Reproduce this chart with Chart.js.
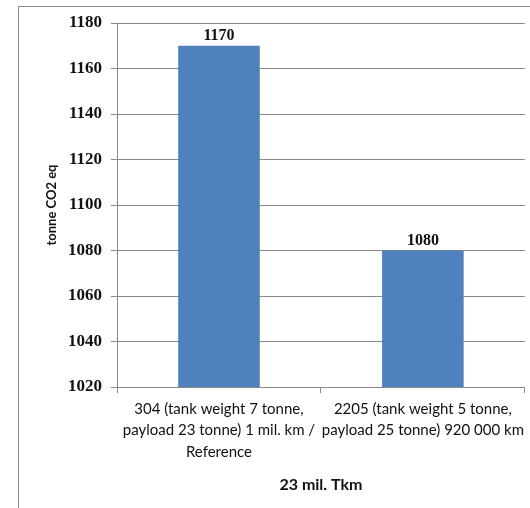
<!DOCTYPE html>
<html>
<head>
<meta charset="utf-8">
<script src="https://cdn.jsdelivr.net/npm/chart.js@4.4.1/dist/chart.umd.min.js"></script>
<style>
  html, body { margin: 0; padding: 0; background: #fff; }
  #wrap { width: 530px; height: 508px; position: relative; }
</style>
</head>
<body>
<div id="wrap"><canvas id="c" width="530" height="508"></canvas></div>
<script>
// Scenario categories (each label split into its display lines)
const categories = [
  ["304 (tank weight 7 tonne,", "payload 23 tonne) 1 mil. km /", "Reference"],
  ["2205 (tank weight 5 tonne,", "payload 25 tonne) 920 000 km"]
];
// Emissions per scenario, tonne CO2 eq
const emissions = [1170, 1080];
// Value axis range and step
const yMin = 1020;
const yMax = 1180;
const yStep = 20;

const axisGrey = '#8a8a8a';
const serifFont = "'Liberation Serif', 'DejaVu Serif', serif";
const sansFont = "Lato, 'Open Sans', 'Liberation Sans', sans-serif";
const padLeft = 44;

// Frame around the chart object
const framePlugin = {
  id: 'frame',
  beforeDraw(chart) {
    const ctx = chart.ctx;
    ctx.save();
    ctx.fillStyle = '#fff';
    ctx.fillRect(0, 0, chart.width, chart.height);
    ctx.strokeStyle = '#8c8c8c';
    ctx.lineWidth = 1;
    ctx.beginPath();
    ctx.moveTo(18.5, chart.height);
    ctx.lineTo(18.5, 6.5);
    ctx.lineTo(chart.width, 6.5);
    ctx.stroke();
    ctx.restore();
  }
};

// Value printed above each bar
const valueLabels = {
  id: 'valueLabels',
  afterDatasetsDraw(chart) {
    const ctx = chart.ctx;
    const meta = chart.getDatasetMeta(0);
    ctx.save();
    ctx.font = "bold 16px " + serifFont;
    ctx.fillStyle = '#111';
    ctx.textAlign = 'center';
    ctx.textBaseline = 'bottom';
    meta.data.forEach((bar, i) => {
      ctx.fillText(String(chart.data.datasets[0].data[i]), bar.x, bar.y - 2);
    });
    ctx.restore();
  }
};

new Chart(document.getElementById('c'), {
  type: 'bar',
  data: {
    labels: categories,
    datasets: [{
      data: emissions,
      backgroundColor: '#4F81BD',
      borderWidth: 0,
      barPercentage: 0.8,
      categoryPercentage: 0.5
    }]
  },
  options: {
    responsive: false,
    animation: false,
    devicePixelRatio: 1,
    layout: { padding: { left: padLeft, top: 23, right: 4, bottom: 14 } },
    plugins: {
      legend: { display: false },
      tooltip: { enabled: false }
    },
    scales: {
      x: {
        grid: {
          drawOnChartArea: false,
          drawTicks: true,
          tickLength: 6,
          color: axisGrey,
          offset: true
        },
        border: { color: axisGrey },
        ticks: {
          color: '#111',
          padding: 5,
          maxRotation: 0,
          autoSkip: false,
          font: { family: sansFont, size: 15, lineHeight: 1.45 }
        },
        title: {
          display: true,
          text: '23 mil. Tkm',
          color: '#111',
          font: { family: sansFont, size: 16, weight: 'bold' },
          padding: { top: 14, bottom: 0 }
        },
        afterFit(scale) { scale.height = 508 - 385 - 16; }
      },
      y: {
        min: yMin,
        max: yMax,
        grid: { color: axisGrey, tickLength: 6 },
        border: { color: axisGrey },
        ticks: {
          stepSize: yStep,
          color: '#111',
          padding: 9,
          font: { family: serifFont, size: 17, weight: 'bold' },
          callback: (v) => String(v)
        },
        title: {
          display: true,
          text: 'tonne CO2 eq',
          color: '#111',
          font: { family: sansFont, size: 13, weight: 'bold' },
          padding: { top: 0, bottom: 0 }
        },
        afterFit(scale) { scale.width = 117 - padLeft; }
      }
    }
  },
  plugins: [framePlugin, valueLabels]
});
</script>
</body>
</html>
